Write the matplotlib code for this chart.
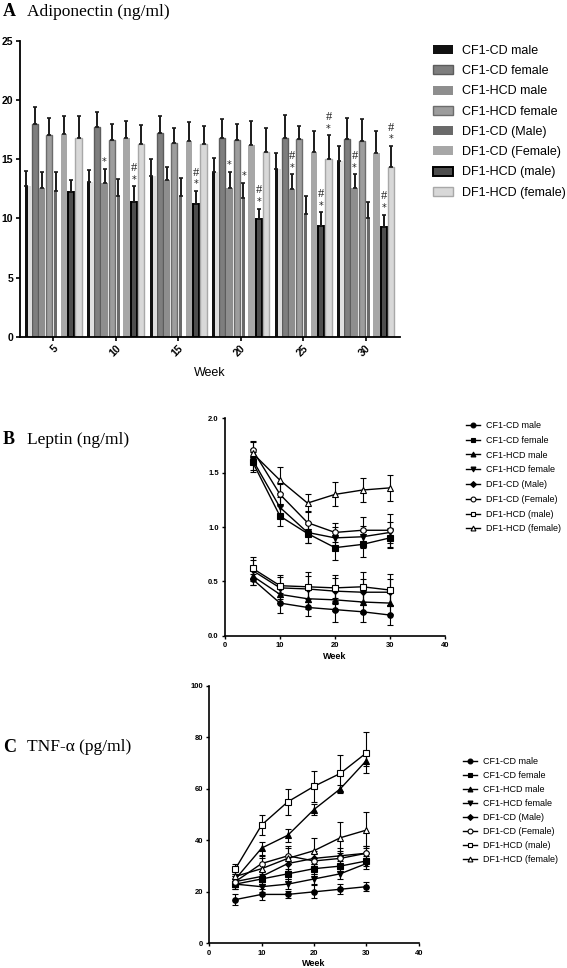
import matplotlib
matplotlib.use("Agg")
import matplotlib.pyplot as plt
from matplotlib.lines import Line2D
from matplotlib.patches import Rectangle
import numpy as np

plt.rcParams["font.family"] = ["Liberation Sans", "DejaVu Sans"]

W, H = 567, 968

series = ["CF1-CD male", "CF1-CD female", "CF1-HCD male", "CF1-HCD female",
          "DF1-CD (Male)", "DF1-CD (Female)", "DF1-HCD (male)", "DF1-HCD (female)"]
weeks = [5, 10, 15, 20, 25, 30]

# --- A: adiponectin (ng/ml), rows = series, cols = weeks
adipo_mean = [
    [12.7, 13.1, 13.6, 13.9, 14.2, 14.8],
    [18.0, 17.7, 17.2, 16.8, 16.8, 16.7],
    [12.6, 13.0, 13.2, 12.6, 12.5, 12.6],
    [17.0, 16.6, 16.4, 16.6, 16.7, 16.5],
    [12.3, 11.9, 11.9, 11.7, 10.4, 10.0],
    [17.1, 16.8, 16.5, 16.2, 15.6, 15.5],
    [12.2, 11.4, 11.2, 9.9, 9.35, 9.3],
    [16.8, 16.3, 16.3, 15.6, 15.0, 14.3],
]
adipo_err = [
    [1.3, 1.0, 1.4, 1.2, 1.3, 1.3],
    [1.4, 1.3, 1.4, 1.6, 1.9, 1.8],
    [1.3, 1.2, 1.1, 1.3, 1.2, 1.1],
    [1.5, 1.4, 1.2, 1.4, 1.1, 1.9],
    [1.6, 1.4, 1.5, 1.3, 1.5, 1.4],
    [1.5, 1.4, 1.6, 2.0, 1.8, 1.9],
    [1.0, 1.3, 1.1, 0.9, 1.15, 1.0],
    [1.8, 1.6, 1.5, 2.0, 2.0, 1.8],
]
# (series index, week index, marks)
adipo_sig = [(2, 1, "*"), (6, 1, "*#"), (6, 2, "*#"), (2, 3, "*"), (4, 3, "*"),
             (6, 3, "*#"), (2, 4, "*#"), (6, 4, "*#"), (7, 4, "*#"),
             (2, 5, "*#"), (6, 5, "*#"), (7, 5, "*#")]

# --- B: leptin (ng/ml)
leptin_mean = [
    [0.52, 0.30, 0.26, 0.24, 0.22, 0.19],
    [1.60, 1.10, 0.94, 0.81, 0.84, 0.90],
    [0.55, 0.38, 0.34, 0.33, 0.31, 0.30],
    [1.62, 1.18, 0.95, 0.90, 0.91, 0.95],
    [0.60, 0.44, 0.43, 0.41, 0.40, 0.40],
    [1.71, 1.30, 1.04, 0.95, 0.97, 0.97],
    [0.62, 0.46, 0.45, 0.44, 0.45, 0.42],
    [1.68, 1.43, 1.22, 1.30, 1.34, 1.36],
]
leptin_err = [
    [0.05, 0.09, 0.08, 0.11, 0.09, 0.09],
    [0.09, 0.09, 0.09, 0.11, 0.12, 0.09],
    [0.08, 0.08, 0.09, 0.10, 0.10, 0.10],
    [0.10, 0.10, 0.10, 0.10, 0.10, 0.10],
    [0.10, 0.10, 0.12, 0.12, 0.12, 0.12],
    [0.08, 0.10, 0.11, 0.09, 0.12, 0.15],
    [0.10, 0.10, 0.14, 0.12, 0.14, 0.15],
    [0.10, 0.12, 0.08, 0.11, 0.11, 0.12],
]

# --- C: TNF-alpha (pg/ml)
tnf_mean = [
    [17, 19, 19, 20, 21, 22],
    [23, 25, 27, 29, 30, 32],
    [25, 37, 42, 52, 60, 71],
    [23, 22, 23, 25, 27, 31],
    [24, 26, 31, 33, 34, 35],
    [24, 31, 34, 32, 33, 35],
    [29, 46, 55, 61, 66, 74],
    [26, 29, 33, 36, 41, 44],
]
tnf_err = [
    [2, 2, 1.5, 2.5, 2, 1.8],
    [2, 2, 2, 2, 2, 2],
    [2, 2.5, 2.5, 2, 1.5, 2],
    [2, 2, 2, 2, 2, 2],
    [2, 2, 3, 3, 3, 3],
    [2, 3, 3, 3, 3, 3],
    [2, 4, 5, 6, 7, 8],
    [2, 4, 5, 5, 6, 7],
]

# bar styles: (face, edge, linewidth, width fraction)
BAR_STYLE = [
    ("#111111", "#111111", 0.0, 0.42),
    ("#7e7e7e", "#5c5c5c", 1.0, 0.85),
    ("#8e8e8e", "#8e8e8e", 0.0, 0.85),
    ("#9d9d9d", "#6c6c6c", 1.0, 0.85),
    ("#6a6a6a", "#6a6a6a", 0.0, 0.40),
    ("#a7a7a7", "#a7a7a7", 0.0, 0.85),
    ("#4d4d4d", "#000000", 1.4, 0.80),
    ("#d8d8d8", "#a8a8a8", 1.0, 0.85),
]
MARKERS = [("o", True), ("s", True), ("^", True), ("v", True),
           ("D", True), ("o", False), ("s", False), ("^", False)]


def frac(left, top, right, bottom):
    return [left / W, 1 - bottom / H, (right - left) / W, (bottom - top) / H]


fig = plt.figure(figsize=(W / 100, H / 100), dpi=100)

# ---------------- Panel A ----------------
axA = fig.add_axes(frac(20, 40.7, 400, 336.7))
slot = 0.584
wk = np.array(weeks, dtype=float)
handles_a = []
for i, name in enumerate(series):
    face, edge, lw, wf = BAR_STYLE[i]
    xs = wk + (i - 3.5) * slot
    if i == 0:
        # thin black bar with a pale strip beside it
        axA.bar(xs + slot * 0.2, adipo_mean[i], slot * 0.45, color="#dedede", lw=0)
        xs = xs - slot * 0.18
    if i == 4:
        xs = xs - slot * 0.15
    axA.bar(xs, adipo_mean[i], slot * wf, color=face, edgecolor=edge, linewidth=lw,
            zorder=2)
    axA.errorbar(xs, adipo_mean[i], yerr=[np.zeros(6), adipo_err[i]], fmt="none",
                 ecolor="#1a1a1a", elinewidth=1.4, capsize=1.5, capthick=1.2, zorder=3)
    handles_a.append(Rectangle((0, 0), 1, 1, facecolor=face, edgecolor=edge,
                               linewidth=max(lw, 0.8) if i in (1, 3, 6, 7) else 0))

for si, wi, marks in adipo_sig:
    x = weeks[wi] + (si - 3.5) * slot
    top = adipo_mean[si][wi] + adipo_err[si][wi]
    axA.text(x, top + 0.15, "*", ha="center", va="bottom", fontsize=7,
             family="DejaVu Sans", color="#222")
    if "#" in marks:
        axA.text(x, top + 1.05, "#", ha="center", va="bottom", fontsize=9,
                 family="Liberation Serif", color="#222")

axA.set_xlim(2.36, 32.76)
axA.set_ylim(0, 25)
axA.set_yticks([0, 5, 10, 15, 20, 25])
axA.set_xticks(weeks)
axA.set_xticklabels([str(w) for w in weeks], rotation=45, ha="right",
                    rotation_mode="anchor", fontweight="bold", fontsize=7.5)
for lab in axA.get_yticklabels():
    lab.set_fontweight("bold")
    lab.set_fontsize(7.5)
axA.tick_params(length=3, width=1.2, pad=2)
axA.set_xlabel("Week", fontsize=9, labelpad=6)
for s in ("top", "right"):
    axA.spines[s].set_visible(False)
for s in ("left", "bottom"):
    axA.spines[s].set_linewidth(1.3)

fig.legend(handles_a, series, loc="upper left", bbox_to_anchor=(433 / W, 1 - 45 / H),
           frameon=False, fontsize=9, handlelength=1.6, handleheight=0.75,
           handletextpad=0.7, labelspacing=0.66, borderpad=0, borderaxespad=0)


# ---------------- line panels ----------------
def line_panel(ax, mean, err, ylim, yticks, yfmt):
    for i in range(len(series)):
        m, filled = MARKERS[i]
        ms = 3 if m == "D" else 4
        ax.errorbar(weeks, mean[i], yerr=err[i], color="black", lw=1.0,
                    marker=m, ms=ms, mfc="black" if filled else "white",
                    mec="black", mew=0.8, ecolor="black", elinewidth=0.8,
                    capsize=2, capthick=0.8)
    ax.set_xlim(0, 40)
    ax.set_ylim(*ylim)
    ax.set_xticks([0, 10, 20, 30, 40])
    ax.set_yticks(yticks)
    ax.set_yticklabels([yfmt.format(v) for v in yticks])
    for lab in ax.get_xticklabels() + ax.get_yticklabels():
        lab.set_fontweight("bold")
        lab.set_fontsize(5.5)
    ax.tick_params(length=2.5, width=1.0, pad=2)
    ax.set_xlabel("Week", fontsize=6.5, fontweight="bold", labelpad=2)
    for s in ("top", "right"):
        ax.spines[s].set_visible(False)
    for s in ("left", "bottom"):
        ax.spines[s].set_linewidth(1.2)


def line_handles():
    hs = []
    for i in range(len(series)):
        m, filled = MARKERS[i]
        hs.append(Line2D([], [], color="black", lw=1.0, marker=m,
                         ms=3 if m == "D" else 3.5,
                         mfc="black" if filled else "white", mec="black", mew=0.8))
    return hs


axB = fig.add_axes(frac(225, 418.3, 445, 635.7))
line_panel(axB, leptin_mean, leptin_err, (0, 2.0), [0, 0.5, 1.0, 1.5, 2.0], "{:.1f}")
fig.legend(line_handles(), series, loc="upper left", bbox_to_anchor=(466 / W, 1 - 421 / H),
           frameon=False, fontsize=6.5, handlelength=1.5, handletextpad=0.7,
           labelspacing=0.64, borderpad=0, borderaxespad=0)

axC = fig.add_axes(frac(209.3, 686, 418.7, 943.3))
line_panel(axC, tnf_mean, tnf_err, (0, 100), [0, 20, 40, 60, 80, 100], "{:.0f}")
fig.legend(line_handles(), series, loc="upper left", bbox_to_anchor=(463 / W, 1 - 757 / H),
           frameon=False, fontsize=6.5, handlelength=1.5, handletextpad=0.7,
           labelspacing=0.56, borderpad=0, borderaxespad=0)

# ---------------- panel titles ----------------
for letter, text, ypx in [("A", "Adiponectin (ng/ml)", 12),
                          ("B", "Leptin (ng/ml)", 440),
                          ("C", "TNF-\u03b1 (pg/ml)", 747)]:
    fig.text(3 / W, 1 - ypx / H, letter, fontsize=13, fontweight="bold",
             family=["Liberation Serif", "DejaVu Serif"], va="center")
    fig.text(27 / W, 1 - ypx / H, text, fontsize=12.5,
             family=["Liberation Serif", "DejaVu Serif"], va="center")

fig.savefig("out.png", dpi=100)
